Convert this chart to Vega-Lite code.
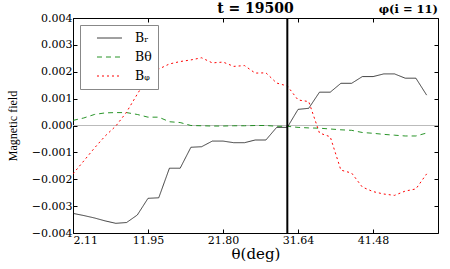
{
  "$schema": "https://vega.github.io/schema/vega-lite/v6.json",
  "autosize": {"type": "none"},
  "width": 365,
  "height": 215,
  "padding": {"left": 73, "top": 18, "right": 12, "bottom": 36},
  "background": "white",
  "title": {"text": "t = 19500", "font": "DejaVu Serif", "fontSize": 14, "fontWeight": "bold", "color": "black", "offset": -12, "anchor": "middle"},
  "config": {
    "view": {"stroke": "black", "strokeWidth": 1},
    "axis": {"grid": false, "domain": false, "tickColor": "black", "tickSize": -4, "labelFont": "DejaVu Serif", "labelFontSize": 11, "labelColor": "black", "titleFont": "DejaVu Serif", "titleColor": "black", "titleFontWeight": "normal"},
    "legend": {"labelFont": "DejaVu Serif", "labelFontSize": 12.5, "labelColor": "black"}
  },
  "datasets": {
    "one": [{"k": 1}],
    "b": [
      {"theta": 2.11, "Br": -0.00327, "Bt": 0.00019, "Bp": -0.0018},
      {"theta": 3.52, "Br": -0.00335, "Bt": 0.00028, "Bp": -0.00132},
      {"theta": 4.92, "Br": -0.00344, "Bt": 0.00041, "Bp": -0.00084},
      {"theta": 6.33, "Br": -0.00355, "Bt": 0.00047, "Bp": -0.00039},
      {"theta": 7.73, "Br": -0.00364, "Bt": 0.00048, "Bp": -0.00002},
      {"theta": 9.14, "Br": -0.00361, "Bt": 0.00048, "Bp": 0.0005},
      {"theta": 10.55, "Br": -0.00333, "Bt": 0.00041, "Bp": 0.00117},
      {"theta": 11.95, "Br": -0.00271, "Bt": 0.00031, "Bp": 0.0018},
      {"theta": 13.36, "Br": -0.00269, "Bt": 0.00031, "Bp": 0.0021},
      {"theta": 14.76, "Br": -0.00159, "Bt": 0.00014, "Bp": 0.00229},
      {"theta": 16.17, "Br": -0.00159, "Bt": 0.00011, "Bp": 0.00238},
      {"theta": 17.58, "Br": -0.00081, "Bt": 0.0, "Bp": 0.00244},
      {"theta": 18.98, "Br": -0.00079, "Bt": -0.00001, "Bp": 0.00252},
      {"theta": 20.39, "Br": -0.00058, "Bt": -0.00002, "Bp": 0.00233},
      {"theta": 21.8, "Br": -0.00058, "Bt": -0.00002, "Bp": 0.00236},
      {"theta": 23.2, "Br": -0.00064, "Bt": -0.00001, "Bp": 0.0022},
      {"theta": 24.61, "Br": -0.00064, "Bt": -0.00001, "Bp": 0.00223},
      {"theta": 26.01, "Br": -0.00054, "Bt": 0.0, "Bp": 0.00195},
      {"theta": 27.42, "Br": -0.00054, "Bt": 0.0, "Bp": 0.00196},
      {"theta": 28.83, "Br": -0.00007, "Bt": -0.00003, "Bp": 0.00158},
      {"theta": 30.23, "Br": -0.00007, "Bt": -0.00003, "Bp": 0.00147},
      {"theta": 31.64, "Br": 0.0006, "Bt": -0.00007, "Bp": 0.00095},
      {"theta": 33.04, "Br": 0.00064, "Bt": -0.00009, "Bp": 0.00089},
      {"theta": 34.45, "Br": 0.00124, "Bt": -0.0001, "Bp": -0.00028},
      {"theta": 35.86, "Br": 0.00124, "Bt": -0.00013, "Bp": -0.00042},
      {"theta": 37.26, "Br": 0.00157, "Bt": -0.00016, "Bp": -0.00166},
      {"theta": 38.67, "Br": 0.00157, "Bt": -0.00018, "Bp": -0.00177},
      {"theta": 40.07, "Br": 0.00182, "Bt": -0.00026, "Bp": -0.00229},
      {"theta": 41.48, "Br": 0.00182, "Bt": -0.00029, "Bp": -0.00246},
      {"theta": 42.89, "Br": 0.00192, "Bt": -0.00033, "Bp": -0.00255},
      {"theta": 44.29, "Br": 0.00192, "Bt": -0.00036, "Bp": -0.0026},
      {"theta": 45.7, "Br": 0.00176, "Bt": -0.00039, "Bp": -0.00244},
      {"theta": 47.1, "Br": 0.00176, "Bt": -0.00039, "Bp": -0.00236},
      {"theta": 48.51, "Br": 0.00113, "Bt": -0.00028, "Bp": -0.0018}
    ]
  },
  "layer": [
    {
      "data": {"name": "one"},
      "mark": {"type": "rule", "color": "#bbbbbb", "strokeWidth": 1},
      "encoding": {
        "y": {"datum": 0, "type": "quantitative", "scale": {"domain": [-0.004, 0.004], "nice": false, "zero": false},
          "axis": {"orient": "right", "labels": false, "values": [-0.004, -0.003, -0.002, -0.001, 0, 0.001, 0.002, 0.003, 0.004], "title": null}}
      }
    },
    {
      "data": {"name": "b"},
      "transform": [{"fold": ["Br", "Bt", "Bp"], "as": ["comp", "val"]}],
      "mark": {"type": "line", "clip": true},
      "encoding": {
        "x": {"field": "theta", "type": "quantitative", "scale": {"domain": [2.11, 50.0], "nice": false, "zero": false},
          "axis": {"orient": "bottom", "values": [2.11, 11.95, 21.8, 31.64, 41.48], "format": ".2f", "title": "θ(deg)", "titleFontSize": 15, "labelPadding": 5, "titlePadding": 1}},
        "y": {"field": "val", "type": "quantitative",
          "axis": {"orient": "left", "values": [-0.004, -0.003, -0.002, -0.001, 0, 0.001, 0.002, 0.003, 0.004], "format": ".3f", "title": "Magnetic field", "titleFont": "Liberation Serif", "titleFontSize": 12, "titleBaseline": "middle", "titleX": -61, "titleY": 107.5, "labelPadding": 5}},
        "color": {"field": "comp", "type": "nominal", "title": null,
          "scale": {"domain": ["Br", "Bt", "Bp"], "range": ["#111111", "#118811", "#ff0000"]},
          "legend": {"orient": "top-left", "offset": 7, "padding": 6, "strokeColor": "#888888", "fillColor": "white", "symbolType": "M0.64,0H4.64", "symbolSize": 156, "symbolStrokeWidth": 1, "labelOffset": 35, "rowPadding": 5,
            "labelExpr": "datum.label == 'Br' ? 'Bᵣ' : datum.label == 'Bt' ? 'Bθ' : 'Bᵩ'"}},
        "strokeDash": {"field": "comp", "type": "nominal", "title": null,
          "scale": {"domain": ["Br", "Bt", "Bp"], "range": [[1, 0], [5, 4], [2, 3]]}},
        "strokeWidth": {"field": "comp", "type": "nominal", "legend": null,
          "scale": {"domain": ["Br", "Bt", "Bp"], "range": [0.8, 1, 2]}}
      }
    },
    {
      "data": {"name": "one"},
      "mark": {"type": "rule", "color": "black", "strokeWidth": 2},
      "encoding": {
        "x": {"datum": 30.23, "type": "quantitative",
          "axis": {"orient": "top", "labels": false, "values": [2.11, 11.95, 21.8, 31.64, 41.48], "title": null}}
      }
    },
    {
      "data": {"name": "one"},
      "mark": {"type": "text", "text": "φ(i = 11)", "font": "DejaVu Serif", "fontSize": 11.5, "fontWeight": "bold", "align": "right", "baseline": "bottom", "dy": -3, "color": "black"},
      "encoding": {
        "x": {"datum": 50.0, "type": "quantitative", "axis": null},
        "y": {"datum": 0.004, "type": "quantitative", "axis": null}
      }
    }
  ]
}
